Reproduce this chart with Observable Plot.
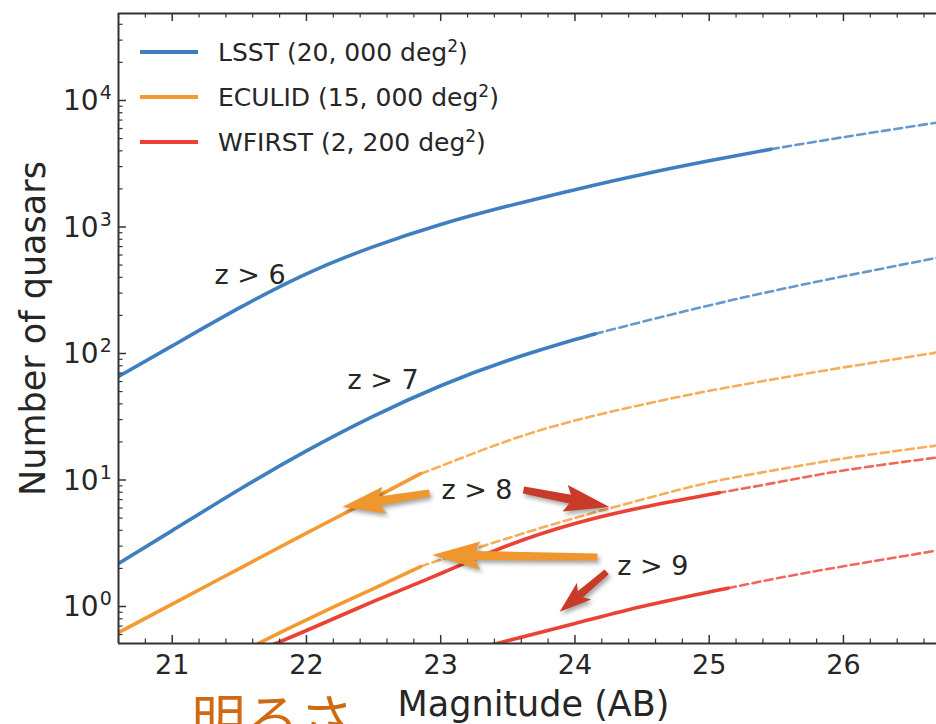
<!DOCTYPE html>
<html><head><meta charset="utf-8">
<script src="https://cdn.jsdelivr.net/npm/d3@7"></script>
<script src="https://cdn.jsdelivr.net/npm/@observablehq/plot@0.6"></script>
<style>
html,body{margin:0;padding:0;background:#fff;}
#chart svg{display:block;}
</style></head><body><div id="chart"></div>
<script>
// ---------- data ----------
const surveys = ["LSST", "ECULID", "WFIRST"];
const surveyNames = ["LSST (20, 000 deg", "ECULID (15, 000 deg", "WFIRST (2, 200 deg"];

const lsstZ6Mag = [20.6, 21.0, 21.5, 22.0, 22.5, 23.0, 23.5, 24.0, 24.5, 25.0, 25.46, 26.0, 26.7];
const lsstZ6N   = [65.8, 114.8, 229.1, 426.6, 699.8, 1047, 1462, 1972, 2600, 3334, 4121, 5129, 6699];
const lsstZ6Limit = 25.46;

const lsstZ7Mag = [20.6, 21.0, 21.5, 22.0, 22.5, 23.0, 23.5, 24.0, 24.15, 24.5, 25.0, 25.5, 26.0, 26.7];
const lsstZ7N   = [2.19, 3.98, 8.41, 16.98, 31.99, 55.6, 88.1, 128.8, 142.9, 177.8, 239.9, 316.2, 407.4, 571.5];
const lsstZ7Limit = 24.15;

const eucZ8Mag = [20.6, 21.0, 21.5, 22.0, 22.5, 22.85, 23.0, 23.5, 24.0, 24.5, 25.0, 25.5, 26.0, 26.7];
const eucZ8N   = [0.622, 1.045, 1.995, 3.80, 7.16, 11.22, 12.88, 20.42, 29.51, 39.36, 50.7, 63.1, 77.6, 101.9];
const eucZ8Limit = 22.85;

const eucZ9Mag = [21.5, 21.64, 22.0, 22.5, 22.85, 23.0, 23.5, 24.0, 24.5, 25.0, 25.5, 26.0, 26.7];
const eucZ9N   = [0.427, 0.51, 0.785, 1.387, 2.07, 2.344, 3.467, 5.012, 7.0, 9.55, 12.02, 14.79, 18.75];
const eucZ9Limit = 22.85;

const wfZ8Mag = [21.6, 21.77, 22.0, 22.5, 23.0, 23.5, 24.0, 24.5, 25.0, 25.06, 25.5, 26.0, 26.7];
const wfZ8N   = [0.428, 0.51, 0.646, 1.096, 1.824, 3.034, 4.529, 6.067, 7.674, 7.889, 9.55, 11.89, 15.07];
const wfZ8Limit = 25.06;

const wfZ9Mag = [23.3, 23.42, 24.0, 24.5, 25.0, 25.14, 25.5, 26.0, 26.7];
const wfZ9N   = [0.47, 0.51, 0.733, 1.0, 1.303, 1.396, 1.667, 2.08, 2.773];
const wfZ9Limit = 25.14;

// annotations
const annotText = ["z > 6", "z > 7", "z > 8", "z > 9"];
const annotMag  = [21.58, 22.57, 23.27, 24.58];
const annotN    = [414, 61.2, 8.26, 2.07];

// arrows (tail -> tip), and which survey each points at
const arrowSurvey  = ["ECULID", "WFIRST", "ECULID", "WFIRST"];
const arrowFromMag = [22.92, 23.62, 24.17, 24.24];
const arrowFromN   = [7.82, 8.26, 2.44, 1.86];
const arrowToMag   = [22.27, 24.26, 22.94, 23.89];
const arrowToN     = [6.07, 6.07, 2.53, 0.90];

// ticks
const xMajor = [21, 22, 23, 24, 25, 26];
const yMajor = [1, 10, 100, 1000, 10000];
const yExponents = ["0", "1", "2", "3", "4"];
const xDomain = [20.6, 26.693];
const yDomain = [0.51, 48700];

// ---------- styles ----------
const surveyColors = ["#3f7fbf", "#f39a30", "#ea4234"];
const arrowColors = {ECULID: "#f0962e", WFIRST: "#c93a28"};
const arrowSizes = [
  {shaft: 9, headL: 38, headW: 27},
  {shaft: 9, headL: 40, headW: 27},
  {shaft: 9, headL: 43, headW: 28},
  {shaft: 8, headL: 27, headW: 22}
];
const axisColor = "#333";
const textColor = "#262626";

// ---------- build rows ----------
const curves = [
  {id: "lsst6", survey: "LSST", mags: lsstZ6Mag, ns: lsstZ6N, limit: lsstZ6Limit},
  {id: "lsst7", survey: "LSST", mags: lsstZ7Mag, ns: lsstZ7N, limit: lsstZ7Limit},
  {id: "euc8", survey: "ECULID", mags: eucZ8Mag, ns: eucZ8N, limit: eucZ8Limit},
  {id: "euc9", survey: "ECULID", mags: eucZ9Mag, ns: eucZ9N, limit: eucZ9Limit},
  {id: "wf8", survey: "WFIRST", mags: wfZ8Mag, ns: wfZ8N, limit: wfZ8Limit},
  {id: "wf9", survey: "WFIRST", mags: wfZ9Mag, ns: wfZ9N, limit: wfZ9Limit}
];
const rows = curves.flatMap(c => c.mags.map((m, i) => ({id: c.id, survey: c.survey, m, n: c.ns[i], limit: c.limit})));

const W = 936, H = 724, mL = 118, mR = 0, mT = 13, mB = 81;
const innerW = W - mL - mR, innerH = H - mT - mB;

const xMinor = d3.range(20.6, 26.7, 0.2).map(v => Math.round(v * 10) / 10).filter(v => Math.abs(v - Math.round(v)) > 1e-6);
const yMinor = [];
for (let k = -1; k <= 4; k++) for (let j = 2; j <= 9; j++) { const v = j * Math.pow(10, k); if (v >= yDomain[0] && v <= yDomain[1]) yMinor.push(v); }

function arrowsMark(index, scales) {
  const g = d3.create("svg:g").style("filter", "drop-shadow(2px 3px 2px rgba(0,0,0,0.35))");
  arrowFromMag.forEach((_, i) => {
    const x1 = scales.x(arrowFromMag[i]), y1 = scales.y(arrowFromN[i]);
    const x2 = scales.x(arrowToMag[i]), y2 = scales.y(arrowToN[i]);
    const s = arrowSizes[i];
    const dx = x2 - x1, dy = y2 - y1, L = Math.hypot(dx, dy);
    const ux = dx / L, uy = dy / L, nx = -uy, ny = ux;
    const sw = s.shaft / 2, hw = s.headW / 2;
    const bx = x2 - ux * s.headL, by = y2 - uy * s.headL;
    const bx2 = bx - ux * 5, by2 = by - uy * 5;
    const pts = [
      [x1 + nx * sw * 0.8, y1 + ny * sw * 0.8],
      [bx + nx * sw, by + ny * sw],
      [bx2 + nx * hw, by2 + ny * hw],
      [x2, y2],
      [bx2 - nx * hw, by2 - ny * hw],
      [bx - nx * sw, by - ny * sw],
      [x1 - nx * sw * 0.8, y1 - ny * sw * 0.8]
    ];
    g.append("path").attr("d", "M" + pts.map(p => p.join(",")).join("L") + "Z")
      .attr("fill", arrowColors[arrowSurvey[i]]);
  });
  return g.node();
}

// y tick labels as 10 with a real superscript exponent
function yLabelsMark(index, scales, values, dims) {
  const g = d3.create("svg:g").attr("fill", textColor).attr("text-anchor", "start");
  yMajor.forEach((v, i) => {
    const y = scales.y(v);
    const t = g.append("text").attr("x", dims.marginLeft - 55).attr("y", y).attr("dy", "0.37em").attr("font-size", 28);
    t.append("tspan").text("10");
    t.append("tspan").attr("font-size", 19).attr("dy", -11).attr("dx", 1).text(yExponents[i]);
  });
  return g.node();
}

function legendMark(index, scales, values, dims) {
  const g = d3.create("svg:g");
  surveys.forEach((s, i) => {
    const y = dims.marginTop + 39 + i * 45;
    g.append("line").attr("x1", dims.marginLeft + 22).attr("x2", dims.marginLeft + 80)
      .attr("y1", y).attr("y2", y).attr("stroke", surveyColors[i]).attr("stroke-width", 4);
    const t = g.append("text").attr("x", dims.marginLeft + 100).attr("y", y).attr("dy", "0.35em")
      .attr("text-anchor", "start")
      .attr("font-size", 25).attr("fill", textColor);
    t.append("tspan").text(surveyNames[i]);
    t.append("tspan").attr("font-size", 17).attr("dy", -9).text("2");
    t.append("tspan").attr("dy", 9).text(")");
  });
  return g.node();
}

const plot = Plot.plot({
  width: W, height: H,
  marginLeft: mL, marginRight: mR, marginTop: mT, marginBottom: mB,
  style: {fontFamily: "'DejaVu Sans', sans-serif", background: "white", color: textColor},
  x: {domain: xDomain, axis: null},
  y: {type: "log", domain: yDomain, axis: null},
  color: {domain: surveys, range: surveyColors},
  marks: [
    // dashed extrapolations
    Plot.line(rows, {filter: d => d.m >= d.limit, x: "m", y: "n", z: "id", stroke: "survey",
      strokeWidth: 2.6, strokeDasharray: "8,4.5", strokeOpacity: 0.8, curve: "natural", clip: true}),
    // solid parts
    Plot.line(rows, {filter: d => d.m <= d.limit, x: "m", y: "n", z: "id", stroke: "survey",
      strokeWidth: 3.6, curve: "natural", clip: true}),
    // frame (left, top, bottom)
    Plot.ruleX([xDomain[0]], {stroke: axisColor, strokeWidth: 2}),
    Plot.ruleY([yDomain[0]], {stroke: axisColor, strokeWidth: 2}),
    Plot.ruleY([yDomain[1]], {stroke: axisColor, strokeWidth: 2}),
    // inward ticks
    Plot.tickX(xMajor, {x: d => d, insetTop: innerH - 8, stroke: axisColor, strokeWidth: 1.5}),
    Plot.tickX(xMinor, {x: d => d, insetTop: innerH - 4.5, stroke: axisColor, strokeWidth: 1.2}),
    Plot.tickX(xMajor, {x: d => d, insetBottom: innerH - 8, stroke: axisColor, strokeWidth: 1.5}),
    Plot.tickX(xMinor, {x: d => d, insetBottom: innerH - 4.5, stroke: axisColor, strokeWidth: 1.2}),
    Plot.tickY(yMajor, {y: d => d, insetRight: innerW - 8, stroke: axisColor, strokeWidth: 1.5}),
    Plot.tickY(yMinor, {y: d => d, insetRight: innerW - 4.5, stroke: axisColor, strokeWidth: 1.2}),
    // tick labels
    Plot.text(xMajor, {x: d => d, frameAnchor: "bottom", lineAnchor: "middle", textAnchor: "middle", dy: 22, text: d => String(d), fontSize: 27, fill: textColor}),
    yLabelsMark,
    // axis labels
    Plot.text(["Magnitude (AB)"], {frameAnchor: "bottom", lineAnchor: "middle", textAnchor: "middle", dx: 6, dy: 61, text: d => d, fontSize: 35, fill: textColor}),
    Plot.text(["Number of quasars"], {frameAnchor: "left", lineAnchor: "middle", textAnchor: "middle", dx: -85, rotate: -90, text: d => d, fontSize: 35, fill: textColor}),
    Plot.text(["明るさ"], {frameAnchor: "bottom", lineAnchor: "middle", textAnchor: "middle", dx: -255, dy: 79, text: d => d, fontSize: 54, fill: "#d06a12", fontFamily: "'Noto Sans CJK JP', sans-serif"}),
    // annotations
    Plot.text(annotText, {x: (d, i) => annotMag[i], y: (d, i) => annotN[i], text: d => d, fontSize: 27, fill: textColor}),
    arrowsMark,
    legendMark
  ]
});
document.getElementById("chart").appendChild(plot);
</script>
</body></html>
